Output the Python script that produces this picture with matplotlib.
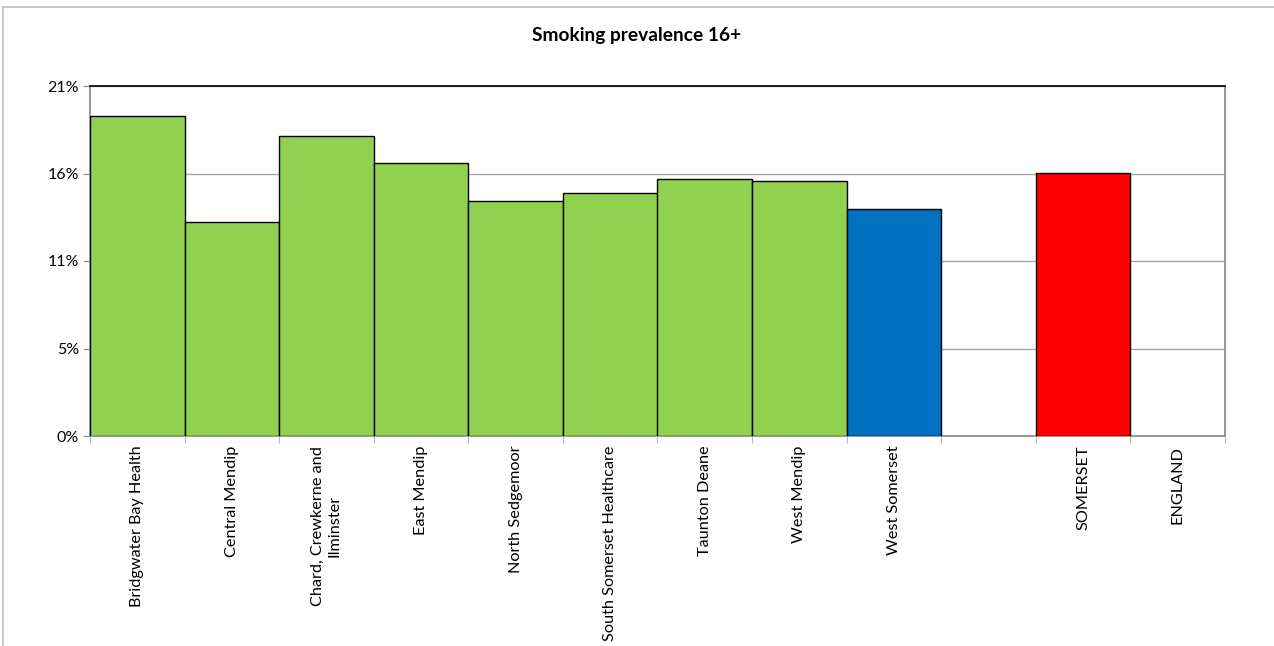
import matplotlib
matplotlib.use("Agg")
import matplotlib.pyplot as plt
import numpy as np
from matplotlib.ticker import FuncFormatter

# Data
areas = ["Bridgwater Bay Health", "Central Mendip", "Chard, Crewkerne and\nIlminster",
         "East Mendip", "North Sedgemoor", "South Somerset Healthcare", "Taunton Deane",
         "West Mendip", "West Somerset", "", "SOMERSET", "ENGLAND"]
prevalence = [19.2, 12.85, 18.0, 16.4, 14.1, 14.6, 15.45, 15.3, 13.6, np.nan, 15.8, np.nan]
bar_colours = ["#92D050"] * 8 + ["#0070C0", "#FFFFFF", "#FF0000", "#FFFFFF"]
y_ticks = [0, 5.25, 10.5, 15.75, 21]

plt.rcParams['font.family'] = ['Lato', 'DejaVu Sans']

fig = plt.figure(figsize=(12.74, 6.46), dpi=100)
ax = fig.add_axes([90/1274, 1 - 436/646, (1225 - 90)/1274, (436 - 86)/646])

x = np.arange(len(areas))
ax.bar(x, prevalence, width=1.0, color=bar_colours, edgecolor="black", linewidth=1.0, zorder=3)

ax.set_xlim(-0.5, len(areas) - 0.5)
ax.set_ylim(0, 21)
ax.set_yticks(y_ticks)
ax.yaxis.set_major_formatter(FuncFormatter(lambda v, p: "%d%%" % int(v + 0.5)))
ax.grid(axis="y", color="#A6A6A6", linewidth=1.0, zorder=0)
ax.tick_params(axis="y", length=5, color="#868686", labelsize=11.5, pad=3)

ax.set_xticks(x)
ax.set_xticklabels(areas, rotation=90, fontsize=11.7, va="top", ha="center", multialignment="center")
ax.tick_params(axis="x", length=0, pad=7)
ax.set_xticks(np.arange(-0.5, len(areas)), minor=True)
ax.tick_params(axis="x", which="minor", length=5, color="#A6A6A6")

for side in ["left", "bottom", "right"]:
    ax.spines[side].set_color("#868686")
    ax.spines[side].set_linewidth(1.2)
ax.spines["top"].set_color("black")
ax.spines["top"].set_linewidth(1.2)

fig.text(0.5, 1 - 35/646, "Smoking prevalence 16+", ha="center", va="center",
         fontsize=13.8, fontweight="bold")

# chart area border (only top and left visible in the original)
fig.add_artist(plt.Line2D([3/1274, 1], [1 - 7/646, 1 - 7/646], color="#BFBFBF", linewidth=1.2))
fig.add_artist(plt.Line2D([3/1274, 3/1274], [0, 1 - 7/646], color="#BFBFBF", linewidth=1.2))

fig.savefig("out.png", dpi=100)
